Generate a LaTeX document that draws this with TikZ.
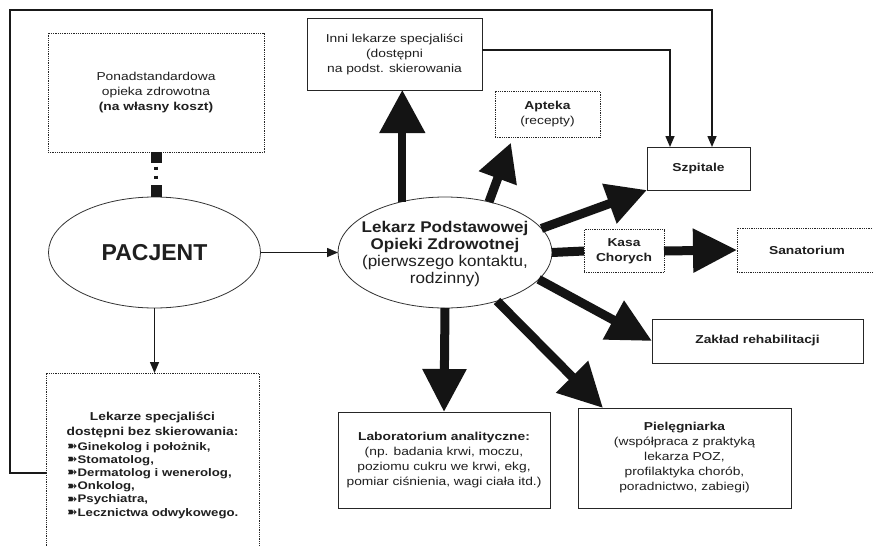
\documentclass[tikz,border=0pt]{standalone}
\usepackage{fontspec}
\setmainfont{Liberation Sans}
\newfontfamily\wf[FakeStretch=1.2]{Liberation Sans}
\newfontfamily\mf[FakeStretch=1.1]{Liberation Sans}
\newfontfamily\dv{DejaVu Sans}
\usetikzlibrary{arrows.meta,shapes.geometric}
\newcommand{\mybul}{{\dv\fontsize{12.5}{12}\selectfont\raisebox{-0.3pt}{➽}}}
\tikzset{
  txt/.style={font=\wf\fontsize{11.5}{15}\selectfont, text=black!88},
  btxt/.style={font=\wf\bfseries\fontsize{11.5}{15}\selectfont, text=black!88},
  box/.style={draw=black!85, line width=0.8pt, inner sep=0pt, outer sep=0pt, align=center, txt},
  dotbox/.style={box, densely dotted},
  oval/.style={ellipse, draw=black!80, line width=0.8pt, inner sep=0pt, outer sep=0pt},
  thinarrow/.style={draw=black!90, line width=1.5pt, -{Triangle[length=11pt,width=9pt]}},
  bigarrow/.style 2 args={draw=black!92, line width=9pt, -{Triangle[length=#1,width=#2]}},
  bigline/.style={draw=black!92, line width=9pt},
}
\begin{document}
\begin{tikzpicture}[x=1pt,y=-1pt]
\fill[white] (0,0) rectangle (873,546);
\useasboundingbox (0,0) rectangle (873,546);
\clip (0,0) rectangle (873,546);

% boxes
\node[dotbox, minimum width=216pt, minimum height=119pt] (ponad) at (156,92.5)
  {Ponadstandardowa\\opieka zdrowotna\\\textbf{(na własny koszt)}};
\node[box, minimum width=175pt, minimum height=72pt] (inni) at (394.5,54)
  {Inni lekarze specjaliści\\(dostępni\\na podst. skierowania};
\node[dotbox, minimum width=105pt, minimum height=46pt] (apt) at (547.5,114)
  {\textbf{Apteka}\\(recepty)};
\node[box, btxt, minimum width=103pt, minimum height=43pt] (szp) at (698.5,168.5) {Szpitale};
\node[dotbox, btxt, minimum width=80pt, minimum height=43pt] (kasa) at (624,251) {Kasa\\Chorych};
\node[dotbox, btxt, minimum width=140pt, minimum height=44pt] (sana) at (807,250) {Sanatorium};
\node[box, btxt, minimum width=211pt, minimum height=44pt] (zak) at (757.5,341) {Zakład rehabilitacji};
\node[box, minimum width=213pt, minimum height=100pt] (piel) at (684.5,458)
  {\textbf{Pielęgniarka}\\(współpraca z praktyką\\lekarza POZ,\\profilaktyka chorób,\\poradnictwo, zabiegi)};
\node[box, minimum width=212pt, minimum height=96pt] (lab) at (444,460)
  {\textbf{Laboratorium analityczne:}\\(np. badania krwi, moczu,\\poziomu cukru we krwi, ekg,\\pomiar ciśnienia, wagi ciała itd.)};
\node[dotbox, minimum width=213pt, minimum height=190pt, anchor=north] (spec) at (152.5,373) {};
\node[btxt, align=center, anchor=north, inner sep=0pt] (spechead) at (152.5,412)
  {Lekarze specjaliści\\dostępni bez skierowania:};
\node[anchor=north west, align=left, inner sep=0pt, font=\wf\bfseries\fontsize{11}{13.2}\selectfont, text=black!88] (speclist) at (67,442)
  {\mybul Ginekolog i położnik,\\\mybul Stomatolog,\\\mybul Dermatolog i wenerolog,\\\mybul Onkolog,\\\mybul Psychiatra,\\\mybul Lecznictwa odwykowego.};

% ellipses
\node[oval, minimum width=212pt, minimum height=111pt, font=\bfseries\fontsize{23}{27}\selectfont, text=black!88] (pac) at (154.5,252.5) {PACJENT};
\node[oval, minimum width=214pt, minimum height=111pt] (lpoz) at (445,252.5) {};
\node[align=center, inner sep=0pt, font=\mf\fontsize{15.5}{17}\selectfont, text=black!88] (lpoztxt) at (445,254)
  {\textbf{Lekarz Podstawowej}\\\textbf{Opieki Zdrowotnej}\\(pierwszego kontaktu,\\rodzinny)};

% dotted link
\draw[black!90, line width=11pt, dash pattern=on 11pt off 22pt on 13pt] (ponad.south) -- (ponad.south |- pac.north);
\draw[black!90, line width=3.5pt, dash pattern=on 3pt off 6pt on 3pt off 40pt] ([yshift=-14.5pt]ponad.south) -- (ponad.south |- pac.north);

% thin connectors
\draw[thinarrow] (pac.east) -- (lpoz.west);
\draw[thinarrow] (pac.south) -- (pac.south |- spec.north);
\draw[thinarrow] (spec.west |- 0,473) -- (10,473) -- (10,10) -- (712,10) -- (712,0 |- szp.north);
\draw[thinarrow] (inni.east |- 0,50) -- (670,50) -- (670,0 |- szp.north);

% thick arrows
\draw[bigarrow={43pt}{44pt}, line width=8pt] (lpoz.130) -- (lpoz.130 |- inni.south);
\draw[bigarrow={38pt}{38pt}, shorten >=6pt] (lpoz.49) -- ([xshift=18pt]apt.south west);
\draw[bigarrow={40pt}{40pt}] (lpoz.14) -- (szp.south west);
\draw[bigline] (lpoz.east) -- (kasa.west);
\draw[bigarrow={44pt}{42pt}] (kasa.east) -- (sana.west);
\draw[bigarrow={44pt}{42pt}] (lpoz.-16) -- (zak.west);
\draw[bigarrow={43pt}{42pt}] (lpoz.south) -- (lab.north);
\draw[bigarrow={44pt}{43pt}] (lpoz.-43) -- ([xshift=25pt]piel.north west);
\end{tikzpicture}
\end{document}
